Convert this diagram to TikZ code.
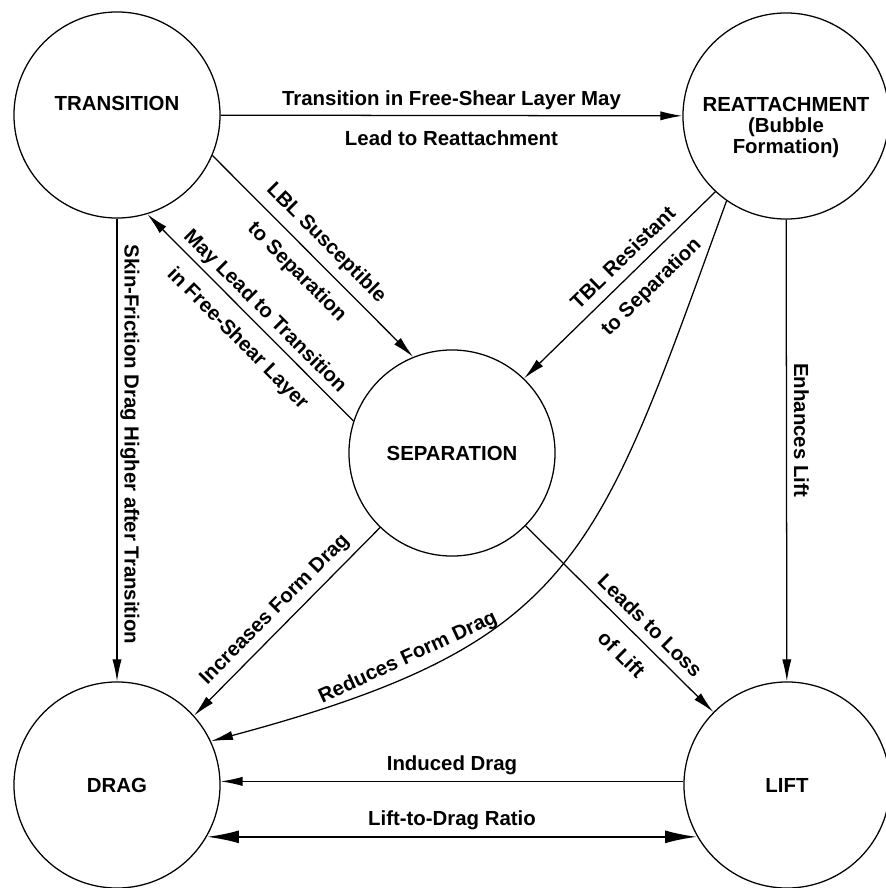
\documentclass[tikz,border=0pt]{standalone}
\usepackage{fontspec}
\setmainfont{Liberation Sans}
\usetikzlibrary{arrows.meta, positioning}

\begin{document}
\begin{tikzpicture}[x=0.025cm, y=-0.025cm, line width=0.9pt,
                >={Latex[length=5.5mm, width=2.3mm]},
                font=\fontsize{14.5}{15}\selectfont\bfseries]
            \tikzstyle{concept}=[circle, draw, minimum size=5.15cm, inner sep=0pt, align=center]
            \tikzstyle{lbl}=[sloped, inner sep=2pt, text height=10.5pt, text depth=3pt]
            \tikzstyle{vlbl}=[rotate=-90, inner sep=2pt, text height=10.5pt, text depth=3pt]
            \useasboundingbox (0,0) rectangle (886,888);

            \node[concept, text depth=16pt] (T) at (117,115) {TRANSITION};
            \node[concept, text height=57pt] (R) at (786,116) {REATTACHMENT\\(Bubble\\Formation)};
            \node[concept] (S) at (452,453) {SEPARATION};
            \node[concept] (D) at (117,785) {DRAG};
            \node[concept] (L) at (787,785) {LIFT};

            \draw[->] (T) -- (R)
                node[lbl, midway, above=1.5pt] {Transition in Free-Shear Layer May}
                node[lbl, midway, below=8.5pt] {Lead to Reattachment};
            \draw[->] (T.-23) -- (S.112)
                node[lbl, midway, above=4pt] {LBL Susceptible}
                node[lbl, midway, below=7pt] {to Separation};
            \draw[->] (S.162) -- (T.-73)
                node[lbl, pos=.48, above=1pt] {May Lead to Transition}
                node[lbl, pos=.48, below=8pt] {in Free-Shear Layer};
            \draw[->] (R.-133) -- (S.46)
                node[lbl, pos=.42, above=2pt] {TBL Resistant}
                node[lbl, pos=.42, below=8pt] {to Separation};
            \draw[->] (R) -- (L)
                node[vlbl, pos=.48, above=8pt] {Enhances Lift};
            \draw[->] (T) -- (D)
                node[vlbl, midway, above=4pt] {Skin-Friction Drag Higher after Transition};
            \draw[->] (S.-134) -- (D.42)
                node[lbl, midway, above=3pt] {Increases Form Drag};
            \draw[->] (R.-125) to[out=-110, in=15, looseness=1.3]
                node[lbl, pos=.77, above=2pt] {Reduces Form Drag} (D.25);
            \draw[->] (S) -- (L)
                node[lbl, pos=.6, above=1.5pt] {Leads to Loss}
                node[lbl, pos=.6, below=9pt] {of Lift};
            \draw[->] (L.178) -- (D.2)
                node[lbl, midway, above=2pt] {Induced Drag};
            \draw[<->, line width=1.6pt, >={Latex[length=8mm, width=3.2mm]}] (D.-30) -- (L.-150)
                node[lbl, midway, above=2.5pt] {Lift-to-Drag Ratio};
        \end{tikzpicture}
\end{document}
